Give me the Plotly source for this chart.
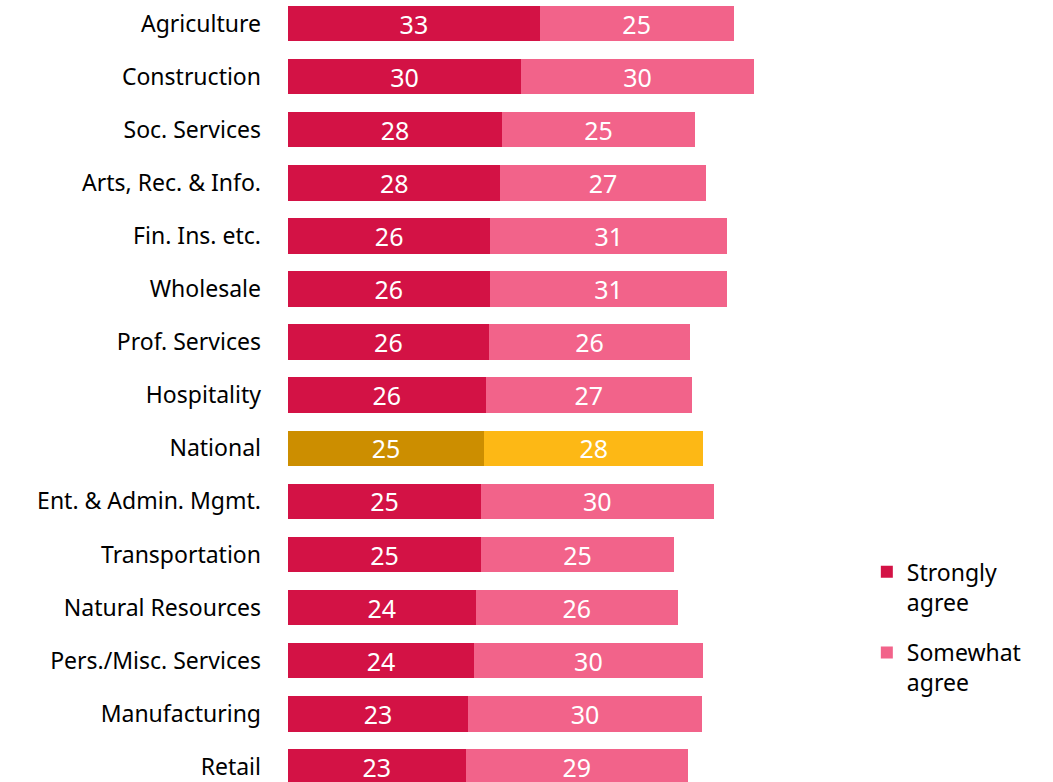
import plotly.graph_objects as go

# Share of respondents by industry (percent)
industries = [
    "Agriculture", "Construction", "Soc. Services", "Arts, Rec. & Info.",
    "Fin. Ins. etc.", "Wholesale", "Prof. Services", "Hospitality",
    "National", "Ent. & Admin. Mgmt.", "Transportation", "Natural Resources",
    "Pers./Misc. Services", "Manufacturing", "Retail",
]
strongly_agree = [32.6, 30.2, 27.7, 27.5, 26.2, 26.1, 26.0, 25.6,
                  25.4, 25.0, 25.0, 24.3, 24.1, 23.3, 23.0]
somewhat_agree = [25.1, 30.1, 25.0, 26.6, 30.7, 30.8, 26.1, 26.7,
                  28.4, 30.1, 25.0, 26.2, 29.6, 30.3, 28.8]

STRONG = "#D31245"
SOMEWHAT = "#F2638A"
NAT_STRONG = "#CC8E00"
NAT_SOMEWHAT = "#FDB815"

strong_colors = [NAT_STRONG if n == "National" else STRONG for n in industries]
somewhat_colors = [NAT_SOMEWHAT if n == "National" else SOMEWHAT for n in industries]

FONT = "Noto Sans"

fig = go.Figure()
fig.add_trace(go.Bar(
    y=industries, x=strongly_agree, orientation="h",
    name="Strongly<br>agree", legendgroup="strong",
    marker=dict(color=strong_colors, line=dict(width=0)),
    texttemplate="%{x:.0f}", textposition="inside", insidetextanchor="middle",
    textangle=0, constraintext="none",
    textfont=dict(family=FONT, size=25, color="white"),
))
fig.add_trace(go.Bar(
    y=industries, x=somewhat_agree, orientation="h",
    name="Somewhat<br>agree", legendgroup="somewhat",
    marker=dict(color=somewhat_colors, line=dict(width=0)),
    texttemplate="%{x:.0f}", textposition="inside", insidetextanchor="middle",
    textangle=0, constraintext="none",
    textfont=dict(family=FONT, size=25, color="white"),
))

fig.update_layout(
    width=1053, height=782,
    barmode="stack", bargap=0.331,
    margin=dict(l=288, r=193, t=0, b=0),
    paper_bgcolor="white", plot_bgcolor="white",
    font=dict(family=FONT, size=23, color="black"),
    showlegend=True,
    legend=dict(
        xref="container", yref="container",
        x=0.8232, y=0.2964, xanchor="left", yanchor="top",
        traceorder="grouped", valign="top",
        font=dict(family=FONT, size=23, color="black"),
        itemsizing="constant", tracegroupgap=18,
        bgcolor="rgba(0,0,0,0)",
    ),
    xaxis=dict(range=[0, 74.07], visible=False, fixedrange=True),
    yaxis=dict(
        range=[14.284, -0.4426], autorange=False,
        showgrid=False, zeroline=False, showline=False,
        ticks="", ticklabelstandoff=26,
        tickfont=dict(family=FONT, size=23, color="black"),
        fixedrange=True,
    ),
)

fig.write_html("out.html")
